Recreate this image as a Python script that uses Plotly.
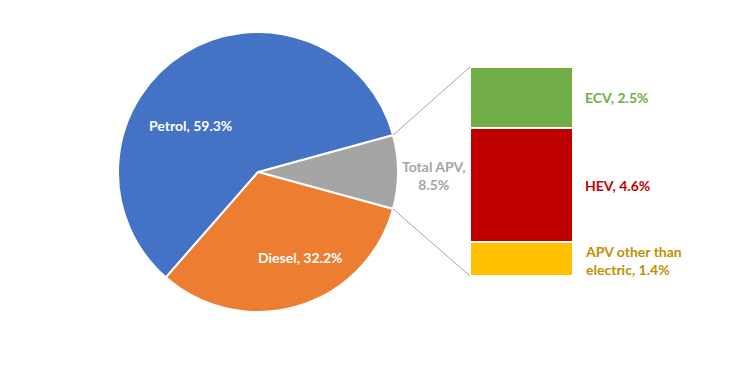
import math
import plotly.graph_objects as go

# ---- data ----
pie_labels = ["Total APV", "Diesel", "Petrol"]
pie_values = [8.5, 32.2, 59.3]
pie_colors = ["#A5A5A5", "#ED7D31", "#4472C4"]

bar_labels = ["APV other than<br>electric", "HEV", "ECV"]
bar_values = [1.4, 4.6, 2.5]
bar_colors = ["#FFC000", "#C00000", "#70AD47"]
bar_text_colors = ["#BF9000", "#C00000", "#70AD47"]

W, H = 738, 387
OFF = 8  # page body margin
FONT = "Lato"
FS = 14

# layout geometry (pixels in the screenshot)
cx, cy, R = 258, 172, 140
bx0, bx1, by_top, by_bot = 470, 573, 67, 276

def px(x):
    return (x - OFF) / W

def py(y):
    return 1 - (y - OFF) / H

total_apv = pie_values[0]
half_apv_deg = 0.5 * total_apv / sum(pie_values) * 360

fig = go.Figure()
fig.add_trace(go.Pie(
    labels=pie_labels, values=pie_values, sort=False, direction="clockwise",
    rotation=90 - half_apv_deg,
    marker=dict(colors=pie_colors, line=dict(color="white", width=2)),
    textinfo="none", hoverinfo="label+percent", showlegend=False,
    domain=dict(x=[px(cx - R), px(cx + R)], y=[py(cy + R), py(cy - R)]),
))

for lab, v, c in zip(bar_labels, bar_values, bar_colors):
    fig.add_trace(go.Bar(
        x=[0], y=[v], width=1, name=lab, marker=dict(color=c, line=dict(color="white", width=2)),
        showlegend=False, hoverinfo="y",
    ))

annotations = []
# pie labels
annotations.append(dict(x=px(190), y=py(126), xref="paper", yref="paper", showarrow=False,
                        xanchor="center", yanchor="middle",
                        text=f"<b>Petrol, {pie_values[2]}%</b>", font=dict(family=FONT, size=FS, color="white")))
annotations.append(dict(x=px(300), y=py(257), xref="paper", yref="paper", showarrow=False,
                        xanchor="center", yanchor="middle",
                        text=f"<b>Diesel, {pie_values[1]}%</b>", font=dict(family=FONT, size=FS, color="white")))
annotations.append(dict(x=px(434), y=py(175), xref="paper", yref="paper", showarrow=False,
                        xanchor="center", yanchor="middle",
                        text=f"<b>Total APV,<br>{pie_values[0]}%</b>", align="center",
                        font=dict(family=FONT, size=FS, color="#A5A5A5")))
# bar labels
cum = 0
for lab, v, tc in zip(bar_labels, bar_values, bar_text_colors):
    mid = cum + v / 2
    cum += v
    annotations.append(dict(x=0.5, y=mid, xref="x", yref="y", xanchor="left", xshift=10,
                            yshift=-2 if "<br>" in lab else 0,
                            showarrow=False, align="left",
                            text=f"<b>{lab}, {v}%</b>", font=dict(family=FONT, size=FS, color=tc)))

# connector lines
a = math.radians(half_apv_deg)
shapes = [
    dict(type="line", xref="paper", yref="paper",
         x0=px(cx + R * math.cos(a)), y0=py(cy - R * math.sin(a)), x1=px(bx0), y1=py(by_top),
         line=dict(color="#A6A6A6", width=1)),
    dict(type="line", xref="paper", yref="paper",
         x0=px(cx + R * math.cos(a)), y0=py(cy + R * math.sin(a)), x1=px(bx0), y1=py(by_bot),
         line=dict(color="#A6A6A6", width=1)),
]

fig.update_layout(
    width=W, height=H, margin=dict(l=0, r=0, t=0, b=0),
    paper_bgcolor="white", plot_bgcolor="white",
    barmode="stack", bargap=0,
    xaxis=dict(domain=[px(bx0), px(bx1)], range=[-0.5, 0.5], visible=False, fixedrange=True),
    yaxis=dict(domain=[py(by_bot), py(by_top)], range=[0, sum(bar_values)], visible=False, fixedrange=True),
    annotations=annotations, shapes=shapes,
)

fig.write_html("out.html")
